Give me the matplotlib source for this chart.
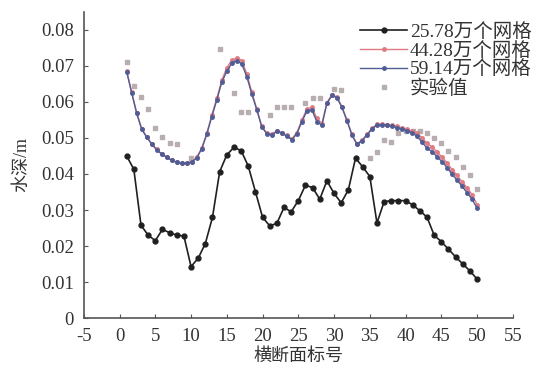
import numpy as np
import matplotlib
matplotlib.use("Agg")
import matplotlib.pyplot as plt
from matplotlib.ticker import FuncFormatter

plt.rcParams['font.family'] = ['Liberation Serif', 'Noto Sans CJK SC']
plt.rcParams['axes.unicode_minus'] = False

# 25.78万个网格 (section 1..50)
x_coarse = np.arange(1, 51)
y_coarse = [0.0450, 0.0413, 0.0258, 0.0230, 0.0215, 0.0246, 0.0237, 0.0230, 0.0228, 0.0143,
            0.0166, 0.0207, 0.0280, 0.0406, 0.0453, 0.0474, 0.0465, 0.0422, 0.0351, 0.0280,
            0.0256, 0.0263, 0.0307, 0.0295, 0.0326, 0.0369, 0.0362, 0.0330, 0.0381, 0.0346,
            0.0320, 0.0356, 0.0444, 0.0420, 0.0393, 0.0264, 0.0323, 0.0326, 0.0326, 0.0326,
            0.0314, 0.0298, 0.0280, 0.0230, 0.0212, 0.0191, 0.0170, 0.0150, 0.0131, 0.0108]

# finer meshes are sampled more densely along the channel
x_fine = np.arange(1, 50.01, 0.7)
y_mid = [0.0686, 0.0627, 0.0570, 0.0526, 0.0503, 0.0484, 0.0468, 0.0456, 0.0447, 0.0439,
         0.0433, 0.0431, 0.0431, 0.0434, 0.0446, 0.0472, 0.0513, 0.0563, 0.0610, 0.0660,
         0.0695, 0.0716, 0.0722, 0.0715, 0.0678, 0.0627, 0.0580, 0.0532, 0.0513, 0.0510,
         0.0520, 0.0515, 0.0507, 0.0498, 0.0515, 0.0550, 0.0580, 0.0585, 0.0555, 0.0540,
         0.0598, 0.0620, 0.0614, 0.0587, 0.0550, 0.0510, 0.0484, 0.0494, 0.0510, 0.0527,
         0.0538, 0.0538, 0.0537, 0.0535, 0.0532, 0.0528, 0.0524, 0.0519, 0.0514, 0.0500,
         0.0485, 0.0475, 0.0461, 0.0447, 0.0431, 0.0412, 0.0396, 0.0379, 0.0361, 0.0343,
         0.0315]
y_fine = [0.0684, 0.0625, 0.0568, 0.0524, 0.0502, 0.0483, 0.0467, 0.0455, 0.0446, 0.0438,
          0.0432, 0.0430, 0.0430, 0.0433, 0.0445, 0.0470, 0.0510, 0.0559, 0.0605, 0.0655,
          0.0685, 0.0708, 0.0715, 0.0705, 0.0670, 0.0622, 0.0578, 0.0530, 0.0512, 0.0509,
          0.0518, 0.0513, 0.0505, 0.0495, 0.0512, 0.0545, 0.0575, 0.0578, 0.0545, 0.0535,
          0.0596, 0.0618, 0.0612, 0.0585, 0.0548, 0.0508, 0.0482, 0.0492, 0.0508, 0.0525,
          0.0536, 0.0536, 0.0535, 0.0533, 0.0529, 0.0525, 0.0520, 0.0514, 0.0505, 0.0488,
          0.0472, 0.0462, 0.0448, 0.0434, 0.0418, 0.0399, 0.0383, 0.0366, 0.0348, 0.0330,
          0.0305]

# 实验值
x_exp = [1, 2, 3, 4, 5, 6, 7, 8, 10, 14, 16, 17, 18, 21, 22, 23, 24, 26, 27, 28, 30, 31,
         35, 36, 37, 38, 39, 40, 41, 42, 43, 44, 45, 46, 47, 48, 49, 50]
y_exp = [0.0712, 0.0644, 0.0615, 0.0580, 0.0527, 0.0504, 0.0487, 0.0483, 0.0445, 0.0746,
         0.0624, 0.0573, 0.0573, 0.0565, 0.0587, 0.0587, 0.0587, 0.0596, 0.0610, 0.0610,
         0.0635, 0.0633, 0.0444, 0.0460, 0.0494, 0.0490, 0.0515, 0.0520, 0.0520, 0.0520,
         0.0515, 0.0500, 0.0485, 0.0465, 0.0448, 0.0420, 0.0397, 0.0357]

labels = ['25.78万个网格', '44.28万个网格', '59.14万个网格', '实验值']

fig = plt.figure(figsize=(5.37, 3.72), dpi=100)
ax = fig.add_axes([0.156, 0.145, 0.799, 0.823])

ax.plot(x_exp, y_exp, linestyle='none', marker='s', markersize=2.5,
        color='#b8aeb0', label=labels[3], zorder=2)
ax.plot(x_fine, y_mid, color='#e07a80', lw=1.0, marker='o', markersize=2.5,
        label=labels[1], zorder=3)
ax.plot(x_fine, y_fine, color='#4f5c96', lw=1.0, marker='o', markersize=2.5,
        label=labels[2], zorder=4)
ax.plot(x_coarse, y_coarse, color='#202020', lw=1.2, marker='o', markersize=3.5,
        label=labels[0], zorder=5)

ax.set_xlim(-5, 55)
ax.set_ylim(0, 0.085)
ax.set_xticks(np.arange(-5, 56, 5))
ax.set_yticks(np.arange(0, 0.081, 0.01))
ax.yaxis.set_major_formatter(FuncFormatter(lambda v, p: '0' if abs(v) < 1e-9 else f'{v:.2f}'))

for s in ['top', 'right']:
    ax.spines[s].set_visible(False)
for s in ['left', 'bottom']:
    ax.spines[s].set_color('#555555')
    ax.spines[s].set_linewidth(1.2)
ax.tick_params(direction='in', length=3, color='#555555', labelsize=13.5,
               labelcolor='#333333', pad=7)

ax.set_xlabel('横断面标号', fontsize=13, color='#333333', labelpad=2)
ax.set_ylabel('水深/m', fontsize=13, color='#333333', labelpad=8)

h, l = ax.get_legend_handles_labels()
order = [3, 1, 2, 0]
ax.legend([h[i] for i in order], [l[i] for i in order], loc='upper right',
          bbox_to_anchor=(1.005, 0.96), bbox_transform=fig.transFigure,
          frameon=False, fontsize=14, labelspacing=0.05, handlelength=2.4,
          handletextpad=0.15, borderaxespad=0.0, labelcolor='#333333')

fig.savefig('out.png', dpi=100)
